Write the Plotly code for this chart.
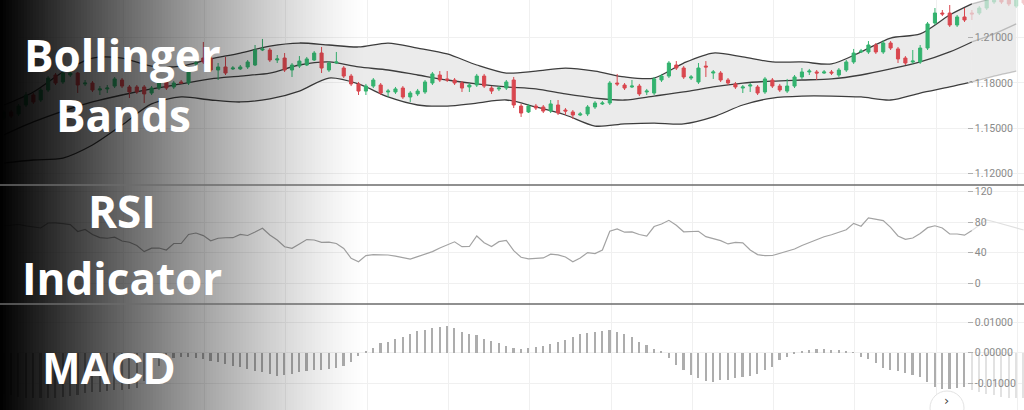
import plotly.graph_objects as go

# ---------------- data ----------------
opens = [1.1568, 1.1608, 1.1595, 1.1654, 1.1720, 1.1687, 1.1753, 1.1852, 1.1806, 1.1852,
         1.1865, 1.1793, 1.1799, 1.1753, 1.1760, 1.1779, 1.1819, 1.1773, 1.1773, 1.1773,
         1.1733, 1.1766, 1.1806, 1.1773, 1.1806, 1.1799, 1.1925, 1.1964, 1.1964, 1.1885,
         1.1905, 1.1892, 1.1892, 1.1905, 1.1918, 1.2017, 1.2017, 1.1951, 1.1964, 1.1885,
         1.1911, 1.1918, 1.1951, 1.1997, 1.1885, 1.1931, 1.1898, 1.1845, 1.1793, 1.1746,
         1.1779, 1.1786, 1.1740, 1.1740, 1.1766, 1.1707, 1.1727, 1.1740, 1.1799, 1.1852,
         1.1826, 1.1819, 1.1799, 1.1773, 1.1786, 1.1845, 1.1766, 1.1760, 1.1766, 1.1819,
         1.1647, 1.1608, 1.1647, 1.1641, 1.1614, 1.1654, 1.1621, 1.1608, 1.1588, 1.1595,
         1.1641, 1.1661, 1.1667, 1.1799, 1.1786, 1.1773, 1.1779, 1.1740, 1.1733, 1.1819,
         1.1845, 1.1918, 1.1898, 1.1832, 1.1806, 1.1911, 1.1865, 1.1865, 1.1819, 1.1793,
         1.1766, 1.1779, 1.1773, 1.1740, 1.1819, 1.1779, 1.1746, 1.1779, 1.1839, 1.1872,
         1.1872, 1.1865, 1.1872, 1.1852, 1.1885, 1.1938, 1.2004, 1.2004, 1.2050, 1.2004,
         1.2063, 1.2024, 1.1964, 1.1938, 1.1938, 1.2030, 1.2195, 1.2261, 1.2261, 1.2182,
         1.2235, 1.2261, 1.2261, 1.2294, 1.2334, 1.2373, 1.2360, 1.2307, 1.2367]

closes = [1.1608, 1.1581, 1.1647, 1.1720, 1.1674, 1.1753, 1.1832, 1.1799, 1.1865, 1.1865,
          1.1786, 1.1799, 1.1753, 1.1760, 1.1766, 1.1826, 1.1779, 1.1740, 1.1740, 1.1727,
          1.1766, 1.1806, 1.1766, 1.1799, 1.1799, 1.1872, 1.1931, 1.1938, 1.1885, 1.1905,
          1.1865, 1.1898, 1.1905, 1.1938, 1.2017, 1.2024, 1.1951, 1.1958, 1.1885, 1.1918,
          1.1944, 1.1958, 1.1997, 1.1898, 1.1931, 1.1938, 1.1845, 1.1793, 1.1746, 1.1779,
          1.1819, 1.1733, 1.1746, 1.1760, 1.1707, 1.1733, 1.1746, 1.1806, 1.1859, 1.1819,
          1.1819, 1.1799, 1.1766, 1.1786, 1.1845, 1.1779, 1.1746, 1.1766, 1.1806, 1.1654,
          1.1601, 1.1647, 1.1634, 1.1614, 1.1661, 1.1601, 1.1614, 1.1588, 1.1595, 1.1641,
          1.1667, 1.1667, 1.1799, 1.1793, 1.1766, 1.1779, 1.1727, 1.1746, 1.1826, 1.1845,
          1.1931, 1.1898, 1.1839, 1.1839, 1.1898, 1.1905, 1.1872, 1.1819, 1.1799, 1.1773,
          1.1773, 1.1786, 1.1733, 1.1826, 1.1779, 1.1753, 1.1779, 1.1839, 1.1872, 1.1878,
          1.1865, 1.1872, 1.1865, 1.1885, 1.1938, 1.1997, 1.2010, 1.2050, 1.2004, 1.2063,
          1.2030, 1.1958, 1.1931, 1.1944, 1.2030, 1.2189, 1.2261, 1.2255, 1.2182, 1.2235,
          1.2215, 1.2255, 1.2294, 1.2347, 1.2373, 1.2334, 1.2321, 1.2367, 1.2327]

highs = [1.1621, 1.1621, 1.1661, 1.1740, 1.1733, 1.1766, 1.1845, 1.1865, 1.1878, 1.1878,
         1.1872, 1.1819, 1.1812, 1.1779, 1.1786, 1.1839, 1.1832, 1.1786, 1.1786, 1.1786,
         1.1779, 1.1819, 1.1819, 1.1812, 1.1819, 1.1885, 1.1944, 1.2070, 1.1977, 1.1931,
         1.1971, 1.1911, 1.1918, 1.1951, 1.2050, 1.2090, 1.2030, 1.1984, 1.1997, 1.1931,
         1.1977, 1.1971, 1.2010, 1.2037, 1.1944, 1.2004, 1.1911, 1.1859, 1.1806, 1.1793,
         1.1832, 1.1799, 1.1760, 1.1773, 1.1779, 1.1746, 1.1760, 1.1819, 1.1872, 1.1878,
         1.1878, 1.1832, 1.1812, 1.1799, 1.1859, 1.1859, 1.1779, 1.1779, 1.1819, 1.1839,
         1.1661, 1.1661, 1.1661, 1.1654, 1.1687, 1.1687, 1.1634, 1.1621, 1.1608, 1.1654,
         1.1680, 1.1680, 1.1812, 1.1859, 1.1799, 1.1819, 1.1793, 1.1760, 1.1839, 1.1859,
         1.1944, 1.1944, 1.1911, 1.1852, 1.1931, 1.1944, 1.1885, 1.1878, 1.1832, 1.1806,
         1.1786, 1.1799, 1.1786, 1.1839, 1.1832, 1.1793, 1.1826, 1.1852, 1.1898, 1.1892,
         1.1885, 1.1885, 1.1885, 1.1898, 1.1951, 1.2024, 1.2024, 1.2076, 1.2063, 1.2083,
         1.2076, 1.2037, 1.1977, 1.2017, 1.2050, 1.2202, 1.2294, 1.2281, 1.2314, 1.2248,
         1.2294, 1.2281, 1.2307, 1.2360, 1.2387, 1.2387, 1.2373, 1.2380, 1.2380]

lows = [1.1555, 1.1568, 1.1581, 1.1641, 1.1661, 1.1674, 1.1740, 1.1786, 1.1793, 1.1839,
        1.1733, 1.1779, 1.1740, 1.1720, 1.1733, 1.1766, 1.1766, 1.1700, 1.1727, 1.1667,
        1.1720, 1.1753, 1.1753, 1.1760, 1.1793, 1.1786, 1.1911, 1.1925, 1.1872, 1.1819,
        1.1852, 1.1885, 1.1885, 1.1892, 1.1911, 1.2010, 1.1938, 1.1931, 1.1872, 1.1839,
        1.1898, 1.1911, 1.1944, 1.1865, 1.1872, 1.1925, 1.1832, 1.1779, 1.1720, 1.1720,
        1.1766, 1.1720, 1.1707, 1.1727, 1.1694, 1.1674, 1.1713, 1.1727, 1.1786, 1.1806,
        1.1806, 1.1786, 1.1740, 1.1740, 1.1773, 1.1766, 1.1727, 1.1746, 1.1753, 1.1634,
        1.1575, 1.1601, 1.1621, 1.1601, 1.1601, 1.1588, 1.1588, 1.1562, 1.1581, 1.1581,
        1.1628, 1.1654, 1.1654, 1.1779, 1.1753, 1.1766, 1.1713, 1.1720, 1.1720, 1.1806,
        1.1832, 1.1885, 1.1826, 1.1819, 1.1793, 1.1839, 1.1826, 1.1806, 1.1786, 1.1760,
        1.1733, 1.1740, 1.1720, 1.1727, 1.1766, 1.1740, 1.1733, 1.1766, 1.1826, 1.1852,
        1.1819, 1.1859, 1.1852, 1.1839, 1.1872, 1.1925, 1.1997, 1.1991, 1.1991, 1.1991,
        1.2017, 1.1931, 1.1918, 1.1925, 1.1925, 1.2017, 1.2182, 1.2241, 1.2169, 1.2169,
        1.2202, 1.2215, 1.2248, 1.2281, 1.2321, 1.2321, 1.2307, 1.2294, 1.2314]

band_idx = [0, 4, 8, 12, 16, 20, 24, 28, 32, 36, 40, 44, 48, 52, 56, 60, 64, 68, 72, 76,
            80, 84, 88, 92, 96, 100, 104, 108, 112, 116, 120, 124, 128, 131, 134, 137]
bb_upper = [1.1654, 1.1740, 1.1872, 1.1964, 1.1964, 1.1911, 1.1911, 1.1958, 1.1997, 1.2043,
            1.2063, 1.2050, 1.2037, 1.2063, 1.2030, 1.1991, 1.1918, 1.1865, 1.1878, 1.1898,
            1.1878, 1.1839, 1.1832, 1.1931, 1.1997, 1.1971, 1.1938, 1.1938, 1.1925, 1.2004,
            1.2096, 1.2123, 1.2248, 1.2321, 1.2360, 1.2387]
bb_middle = [1.1456, 1.1542, 1.1614, 1.1674, 1.1720, 1.1760, 1.1793, 1.1826, 1.1845, 1.1865,
             1.1918, 1.1938, 1.1905, 1.1885, 1.1852, 1.1819, 1.1793, 1.1773, 1.1760, 1.1727,
             1.1700, 1.1687, 1.1713, 1.1740, 1.1773, 1.1799, 1.1812, 1.1819, 1.1826, 1.1852,
             1.1892, 1.1938, 1.2004, 1.2070, 1.2123, 1.2189]
bb_lower = [1.1271, 1.1291, 1.1304, 1.1390, 1.1522, 1.1661, 1.1707, 1.1687, 1.1674, 1.1694,
            1.1746, 1.1832, 1.1793, 1.1707, 1.1654, 1.1647, 1.1667, 1.1687, 1.1641, 1.1588,
            1.1515, 1.1529, 1.1535, 1.1529, 1.1575, 1.1654, 1.1700, 1.1713, 1.1713, 1.1707,
            1.1687, 1.1733, 1.1773, 1.1806, 1.1845, 1.1878]

rsi = [74.9, 76.2, 77.0, 75.0, 73.3, 72.3, 78.8, 79.0, 78.0, 76.8,
       67.7, 70.3, 63.8, 59.7, 58.9, 60.2, 55.3, 53.7, 49.3, 41.4,
       45.9, 46.1, 43.5, 52.0, 52.0, 63.8, 65.7, 62.3, 55.5, 58.9,
       59.5, 59.6, 63.9, 62.5, 67.0, 71.9, 63.1, 56.6, 47.8, 45.7,
       51.4, 57.2, 56.6, 53.6, 53.7, 52.0, 45.5, 32.7, 28.2, 36.2,
       37.5, 37.5, 37.0, 35.4, 33.6, 31.5, 34.8, 37.6, 41.4, 46.1,
       50.6, 54.2, 47.8, 48.1, 61.8, 53.1, 48.0, 54.4, 55.9, 42.6,
       34.0, 31.8, 32.6, 33.1, 38.0, 37.1, 34.4, 28.1, 33.1, 40.1,
       38.8, 43.5, 68.1, 71.0, 66.8, 67.2, 63.8, 61.6, 74.2, 77.5,
       82.3, 75.9, 67.3, 67.2, 68.0, 60.9, 58.4, 55.7, 51.4, 53.5,
       52.9, 43.5, 37.5, 36.1, 36.3, 38.9, 41.7, 44.8, 49.4, 53.2,
       57.9, 60.8, 63.5, 66.3, 69.9, 78.4, 74.6, 85.6, 83.6, 81.9,
       73.1, 61.8, 57.5, 59.2, 65.0, 72.7, 75.2, 72.3, 64.4, 64.4,
       62.9, 69.0, 75.5, 83.0, 80.4, 77.5, 74.5, 72.3, 69.7]

macd_hist = [-0.0135, -0.0140, -0.0145, -0.0148, -0.0150, -0.0150, -0.0150, -0.0148, -0.0145, -0.0142,
             -0.0138, -0.0133, -0.0130, -0.0128, -0.0126, -0.0124, -0.0122, -0.0120, -0.0116, -0.0095,
             -0.0070, -0.0045, -0.0028, -0.0018, -0.0016, -0.0016, -0.0018, -0.0021, -0.0027, -0.0032,
             -0.0038, -0.0043, -0.0049, -0.0054, -0.0060, -0.0065, -0.0070, -0.0076, -0.0074, -0.0070,
             -0.0063, -0.0060, -0.0057, -0.0057, -0.0055, -0.0052, -0.0044, -0.0030, -0.0011, 0.0003,
             0.0014, 0.0030, 0.0035, 0.0043, 0.0050, 0.0060, 0.0070, 0.0074, 0.0079, 0.0085,
             0.0087, 0.0079, 0.0068, 0.0060, 0.0057, 0.0043, 0.0038, 0.0030, 0.0021, 0.0016,
             0.0010, 0.0014, 0.0019, 0.0021, 0.0027, 0.0035, 0.0041, 0.0052, 0.0060, 0.0065,
             0.0068, 0.0071, 0.0074, 0.0068, 0.0060, 0.0052, 0.0035, 0.0025, 0.0010, 0.0002,
             -0.0019, -0.0041, -0.0057, -0.0074, -0.0085, -0.0092, -0.0096, -0.0090, -0.0090, -0.0085,
             -0.0079, -0.0077, -0.0070, -0.0057, -0.0047, -0.0025, -0.0014, -0.0006, 0.0002, 0.0008,
             0.0010, 0.0010, 0.0008, 0.0008, 0.0003, 0.0001, -0.0014, -0.0022, -0.0035, -0.0052,
             -0.0057, -0.0060, -0.0068, -0.0074, -0.0081, -0.0096, -0.0114, -0.0121, -0.0121, -0.0117,
             -0.0114, -0.0123, -0.0128, -0.0135, -0.0140, -0.0145, -0.0148, -0.0150, -0.0150]

price_ticks = [1.12, 1.15, 1.18, 1.21]
price_labels = ["1.12000", "1.15000", "1.18000", "1.21000"]
rsi_ticks = [0, 40, 80, 120]
rsi_labels = ["0", "40", "80", "120"]
macd_ticks = [-0.01, 0.0, 0.01]
macd_labels = ["-0.01000", "0.00000", "0.01000"]

titles = ["Bollinger", "Bands", "RSI", "Indicator", "MACD"]

# ---------------- styling ----------------
W, H = 1024, 410
SPLIT = 131            # bars from here on are drawn faded (right of the price scale)
GREEN = "#34b36f"
RED = "#d9474f"
BAND_LINE = "#3d3d3d"
BAND_FILL = "#ebebeb"
GRID = "#f0f0f0"

idx = list(range(len(opens)))

P_DOM = [1 - 185 / H, 1.0]
R_DOM = [1 - 304 / H, 1 - 185 / H]
M_DOM = [0.0, 1 - 304 / H]
P_RANGE = [1.1126, 1.2347]

fig = go.Figure()


def add_bands(sel, op):
    bx = [band_idx[k] for k in sel]
    up = [bb_upper[k] for k in sel]
    mid = [bb_middle[k] for k in sel]
    lo = [bb_lower[k] for k in sel]
    fig.add_trace(go.Scatter(x=bx, y=up, mode="lines", line=dict(width=0, shape="spline", smoothing=0.8),
                             opacity=op, hoverinfo="skip", showlegend=False, xaxis="x", yaxis="y"))
    fig.add_trace(go.Scatter(x=bx, y=lo, mode="lines", fill="tonexty", fillcolor=BAND_FILL,
                             line=dict(width=0, shape="spline", smoothing=0.8),
                             opacity=op, hoverinfo="skip", showlegend=False, xaxis="x", yaxis="y"))
    for ser in (up, mid, lo):
        fig.add_trace(go.Scatter(x=bx, y=ser, mode="lines",
                                 line=dict(color=BAND_LINE, width=1.3, shape="spline", smoothing=0.8),
                                 opacity=op, hoverinfo="skip", showlegend=False, xaxis="x", yaxis="y"))


sel_a = [k for k, b in enumerate(band_idx) if b <= SPLIT]
sel_b = [k for k, b in enumerate(band_idx) if b >= SPLIT]
add_bands(sel_a, 1.0)
add_bands(sel_b, 0.28)


def add_candles(a, b, op):
    # drawn on an overlaying axis so the candles sit above the band fill
    fig.add_trace(go.Candlestick(
        x=idx[a:b], open=opens[a:b], high=highs[a:b], low=lows[a:b], close=closes[a:b],
        increasing=dict(line=dict(color=GREEN, width=1), fillcolor=GREEN),
        decreasing=dict(line=dict(color=RED, width=1), fillcolor=RED),
        whiskerwidth=0, opacity=op, showlegend=False, xaxis="x", yaxis="y4"))


add_candles(0, SPLIT, 1.0)
add_candles(SPLIT, len(opens), 0.28)

# RSI
fig.add_trace(go.Scatter(x=idx[:SPLIT + 1], y=rsi[:SPLIT + 1], mode="lines",
                         line=dict(color="#a3a3a3", width=1.2), hoverinfo="skip",
                         showlegend=False, xaxis="x2", yaxis="y2"))
fig.add_trace(go.Scatter(x=idx[SPLIT:], y=rsi[SPLIT:], mode="lines",
                         line=dict(color="#e0e0e0", width=1.2), hoverinfo="skip",
                         showlegend=False, xaxis="x2", yaxis="y2"))

# MACD histogram
fig.add_trace(go.Bar(x=idx[:SPLIT], y=macd_hist[:SPLIT], width=0.22,
                     marker=dict(color="#adadad", line=dict(width=0)),
                     hoverinfo="skip", showlegend=False, xaxis="x3", yaxis="y3"))
fig.add_trace(go.Bar(x=idx[SPLIT:], y=macd_hist[SPLIT:], width=0.22,
                     marker=dict(color="#e2e2e2", line=dict(width=0)),
                     hoverinfo="skip", showlegend=False, xaxis="x3", yaxis="y3"))

XR = [-0.514, 138.05]
xcommon = dict(domain=[0, 1], range=XR, showticklabels=False, showgrid=True, gridcolor=GRID,
               gridwidth=1, tick0=5.17, dtick=11, ticks="", zeroline=False, showline=False,
               fixedrange=True)
tickfont = dict(family="Roboto", size=10.5, color="#8a8a8a")
ycommon = dict(anchor="free", position=0.944, side="right", ticks="outside", ticklen=5,
               tickcolor="#b0b0b0", tickwidth=1, tickfont=tickfont, showgrid=True,
               gridcolor=GRID, gridwidth=1, zeroline=False, showline=False, fixedrange=True)

fig.update_layout(
    width=W, height=H, margin=dict(l=0, r=0, t=0, b=0),
    paper_bgcolor="white", plot_bgcolor="white",
    hovermode=False, boxgap=0.4, bargap=0,
    xaxis=dict(anchor="y", rangeslider=dict(visible=False), **xcommon),
    xaxis2=dict(anchor="y2", **xcommon),
    xaxis3=dict(anchor="y3", **xcommon),
    yaxis=dict(domain=P_DOM, range=P_RANGE, tickvals=price_ticks,
               ticktext=price_labels, **ycommon),
    yaxis2=dict(domain=R_DOM, range=[-27.1, 128.5], tickvals=rsi_ticks,
                ticktext=rsi_labels, **ycommon),
    yaxis3=dict(domain=M_DOM, range=[-0.01885, 0.0159], tickvals=macd_ticks,
                ticktext=macd_labels, **ycommon),
    yaxis4=dict(overlaying="y", anchor="x", range=P_RANGE, visible=False,
                showgrid=False, zeroline=False, fixedrange=True),
)

shapes = []
# dark-to-clear gradient on the left
STRIP = 3
for k in range(0, 130):
    xm = k * STRIP + STRIP / 2
    a = max(0.0, 1 - xm / 365) ** 1.25
    if a <= 0.002:
        continue
    shapes.append(dict(type="rect", xref="paper", yref="paper", layer="above",
                       x0=k * STRIP / W, x1=(k + 1) * STRIP / W, y0=0, y1=1,
                       fillcolor=f"rgba(0,0,0,{a:.3f})", line=dict(width=0)))
# panel separators
for yy in (P_DOM[0], R_DOM[0]):
    shapes.append(dict(type="line", xref="paper", yref="paper", layer="above",
                       x0=0, x1=1, y0=yy, y1=yy, line=dict(color="#6b6b6b", width=1.5)))
# scroll button
shapes.append(dict(type="circle", xref="paper", yref="paper", layer="above",
                   x0=930 / W, x1=964 / W, y0=1 - 425 / H, y1=1 - 391 / H,
                   fillcolor="white", line=dict(color="#e3e3e3", width=1)))
fig.update_layout(shapes=shapes)

title_pos = [(122, 55), (123, 115), (122, 211), (122, 278), (109, 368)]
anns = []
for t, (px, py) in zip(titles, title_pos):
    fam = "Liberation Sans" if t == "MACD" else "Open Sans"
    anns.append(dict(text=t, xref="paper", yref="paper", x=px / W, y=1 - py / H,
                     xanchor="center", yanchor="middle", showarrow=False,
                     font=dict(family=fam, size=44, color="white", weight=700)))
anns.append(dict(text="›", xref="paper", yref="paper", x=946 / W, y=0,
                 xanchor="center", yanchor="bottom", showarrow=False,
                 font=dict(family="DejaVu Sans", size=13, color="#444")))
fig.update_layout(annotations=anns)

fig.write_html("out.html", config={"displayModeBar": False},
               post_script="document.body.style.margin='0';document.body.style.padding='0';"
                           "document.documentElement.style.overflow='hidden';")
